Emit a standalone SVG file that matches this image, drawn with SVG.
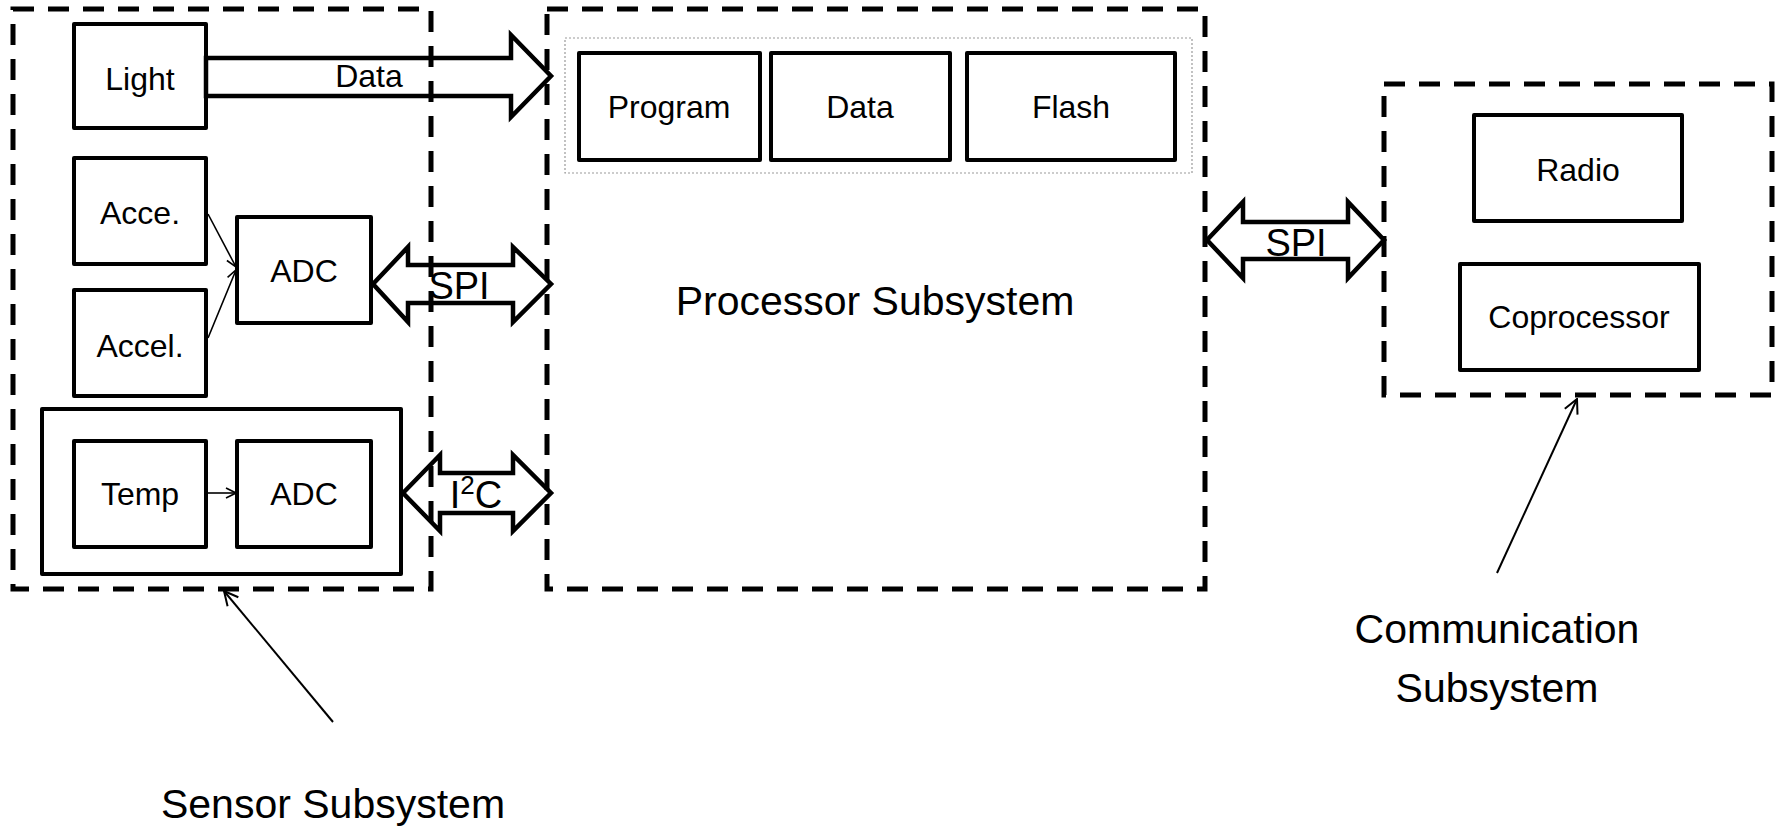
<svg xmlns="http://www.w3.org/2000/svg" width="1783" height="829" viewBox="0 0 1783 829">
<style>
text{font-family:"Liberation Sans",Arial,sans-serif;fill:#000;text-anchor:middle}
.lbl{font-size:32px}
.big{font-size:41px}
.bus{font-size:38px}
.box{fill:none;stroke:#000;stroke-width:4;stroke-linejoin:round}
.dash{fill:none;stroke:#000;stroke-width:5;stroke-dasharray:21 14}
.dot{fill:none;stroke:#999;stroke-width:1.2;stroke-dasharray:2 2}
.blk{fill:none;stroke:#000;stroke-width:4.5;stroke-linejoin:miter}
.thin{fill:none;stroke:#000;stroke-width:1.6}
.ann{fill:none;stroke:#000;stroke-width:2}
</style>
<defs>
<marker id="open" viewBox="0 0 12 12" refX="11" refY="6" markerWidth="12" markerHeight="12" markerUnits="userSpaceOnUse" orient="auto">
<path d="M1,1 L11,6 L1,11" fill="none" stroke="#000" stroke-width="1.6"/>
</marker>
<marker id="open2" viewBox="0 0 16 16" refX="15" refY="8" markerWidth="16" markerHeight="16" markerUnits="userSpaceOnUse" orient="auto">
<path d="M1,1 L15,8 L1,15" fill="none" stroke="#000" stroke-width="2"/>
</marker>
</defs>

<g id="sensor-subsystem">
<rect class="dash" x="13" y="9" width="418" height="580"/>
</g>
<g id="processor-subsystem">
<rect class="dash" x="547" y="9" width="658" height="580"/>
<rect class="dot" x="565" y="38" width="627" height="135"/>
<text class="big" x="875" y="315">Processor Subsystem</text>
</g>
<g id="communication-subsystem">
<rect class="dash" x="1384" y="84" width="388" height="311"/>
</g>

<g id="light"><rect class="box" x="74" y="24" width="132" height="104"/><text class="lbl" x="140" y="90">Light</text></g>
<g id="acce"><rect class="box" x="74" y="158" width="132" height="106"/><text class="lbl" x="140" y="224">Acce.</text></g>
<g id="accel"><rect class="box" x="74" y="290" width="132" height="106"/><text class="lbl" x="140" y="357">Accel.</text></g>
<g id="adc1"><rect class="box" x="237" y="217" width="134" height="106"/><text class="lbl" x="304" y="282">ADC</text></g>
<g id="temp-group"><rect class="box" x="42" y="409" width="359" height="165"/></g>
<g id="temp"><rect class="box" x="74" y="441" width="132" height="106"/><text class="lbl" x="140" y="505">Temp</text></g>
<g id="adc2"><rect class="box" x="237" y="441" width="134" height="106"/><text class="lbl" x="304" y="505">ADC</text></g>

<g id="program"><rect class="box" x="579" y="53" width="181" height="107"/><text class="lbl" x="669" y="118">Program</text></g>
<g id="data-mem"><rect class="box" x="771" y="53" width="179" height="107"/><text class="lbl" x="860" y="118">Data</text></g>
<g id="flash"><rect class="box" x="967" y="53" width="208" height="107"/><text class="lbl" x="1071" y="118">Flash</text></g>

<g id="radio"><rect class="box" x="1474" y="115" width="208" height="106"/><text class="lbl" x="1578" y="181">Radio</text></g>
<g id="coprocessor"><rect class="box" x="1460" y="264" width="239" height="106"/><text class="lbl" x="1579" y="328">Coprocessor</text></g>

<g id="connectors">
<polygon class="blk" points="206,58 511,58 511,35 551,76 511,117 511,96 206,96"/>
<text class="lbl" x="369" y="87">Data</text>
<polygon class="blk" points="373,284 408,247 408,265 513,265 513,247 551,284 513,322 513,303 408,303 408,322"/>
<text class="bus" x="459" y="299">SPI</text>
<polygon class="blk" points="403,493 440,455 440,473 513,473 513,455 551,493 513,531 513,513 440,513 440,531"/>
<text class="bus" x="476" y="508">I<tspan font-size="26" dy="-14">2</tspan><tspan dy="14">C</tspan></text>
<polygon class="blk" points="1207,240 1243,202 1243,222 1348,222 1348,202 1384,240 1348,278 1348,259 1243,259 1243,278"/>
<text class="bus" x="1296" y="256">SPI</text>
<line class="thin" x1="208" y1="214" x2="236" y2="267" marker-end="url(#open)"/>
<line class="thin" x1="208" y1="338" x2="236" y2="270" marker-end="url(#open)"/>
<line class="thin" x1="206" y1="493" x2="236" y2="493" marker-end="url(#open)"/>
<line class="ann" x1="333" y1="722" x2="224" y2="591" marker-end="url(#open2)"/>
<line class="ann" x1="1497" y1="573" x2="1577" y2="399" marker-end="url(#open2)"/>
</g>

<g id="labels">
<text class="big" x="333" y="818">Sensor Subsystem</text>
<text class="big" x="1497" y="643">Communication</text>
<text class="big" x="1497" y="702">Subsystem</text>
</g>
</svg>
